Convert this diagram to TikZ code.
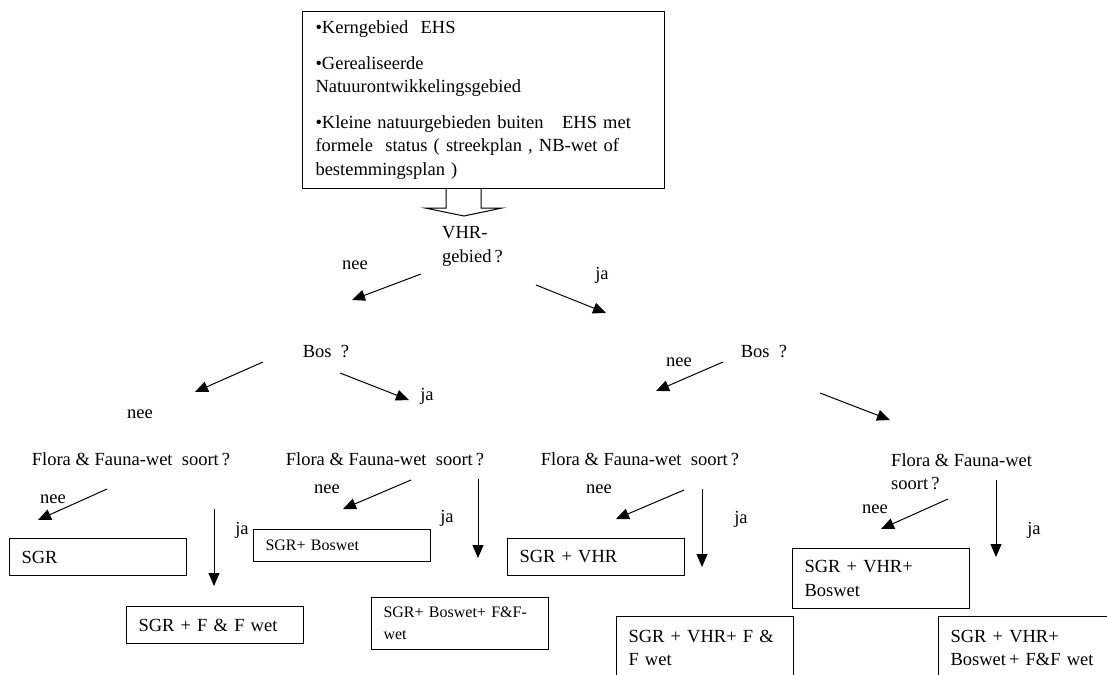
\documentclass[tikz,border=0pt]{standalone}
\usepackage{fontspec}
\setmainfont{Liberation Serif}
\usetikzlibrary{arrows.meta}
\tikzset{
  tekst/.style={inner sep=0pt, align=left, font=\fontsize{18.5}{23.5}\selectfont},
  uitkomst/.style={draw, line width=1pt, anchor=north west, text width=153pt,
    inner xsep=12pt, inner ysep=0pt, align=left, font=\fontsize{18.5}{23.5}\selectfont},
  klein/.style={font=\fontsize{16}{22}\selectfont},
  pijl/.style={line width=1pt, -{Triangle[length=13pt,width=11pt]}}
}
\begin{document}
\begin{tikzpicture}[x=1pt,y=-1pt]
\useasboundingbox (0,0) rectangle (1107,674);

\node[uitkomst, text width=336pt, inner xsep=13pt, minimum height=177pt] (ehs) at (302,11)
  {\textbullet Kerngebied~~EHS\\[12pt]
   \textbullet Gerealiseerde\\Natuurontwikkelingsgebied\\[12pt]
   \textbullet Kleine natuurgebieden buiten\quad EHS met\\
   formele~~status ( streekplan , NB-wet of\\bestemmingsplan~)};
\draw[line width=1pt] (446,188) -- (446,208) -- (425,208) -- (464,216)
  -- (502,208) -- (481,208) -- (481,188);

\node[tekst, anchor=west] (vhr) at (442,246.5) {VHR-\\gebied\,?};
\node[tekst] (bosL) at (326,352) {Bos~~?};
\node[tekst] (bosR) at (764,352) {Bos~~?};
\node[tekst] (ffA) at (131,459) {Flora \& Fauna-wet~~soort\,?};
\node[tekst] (ffB) at (385,459) {Flora \& Fauna-wet~~soort\,?};
\node[tekst] (ffC) at (640,459) {Flora \& Fauna-wet~~soort\,?};
\node[tekst, anchor=west] (ffD) at (891,471.5) {Flora \& Fauna-wet\\soort\,?};

\node[tekst] (vhr-nee) at (355,265) {nee};
\node[tekst] (vhr-ja) at (602,275) {ja};
\node[tekst] (bosL-nee) at (140,414) {nee};
\node[tekst] (bosL-ja) at (427,396) {ja};
\node[tekst] (bosR-nee) at (679,362) {nee};
\node[tekst] (ffA-nee) at (53,499) {nee};
\node[tekst] (ffA-ja) at (242,530) {ja};
\node[tekst] (ffB-nee) at (327,489) {nee};
\node[tekst] (ffB-ja) at (447,518) {ja};
\node[tekst] (ffC-nee) at (599,489) {nee};
\node[tekst] (ffC-ja) at (741,519) {ja};
\node[tekst] (ffD-nee) at (875,509) {nee};
\node[tekst] (ffD-ja) at (1034,530) {ja};

\node[uitkomst, minimum height=37pt] (sgr) at (9,538) {SGR};
\node[uitkomst, minimum height=37pt] (sgr-ff) at (126,606) {SGR + F \& F wet};
\node[uitkomst, klein, minimum height=32pt] (sgr-bos) at (253,529) {SGR+ Boswet};
\node[uitkomst, klein, minimum height=52pt] (sgr-bos-ff) at (371,597) {SGR+ Boswet+ F\&F-\\wet};
\node[uitkomst, minimum height=37pt] (sgr-vhr) at (507,538) {SGR + VHR};
\node[uitkomst, minimum height=63pt] (sgr-vhr-ff) at (616,616) {SGR + VHR+ F \&\\F wet};
\node[uitkomst, minimum height=60pt] (sgr-vhr-bos) at (792,548) {SGR + VHR+\\Boswet};
\node[uitkomst, minimum height=63pt] (sgr-alles) at (938,616) {SGR + VHR+\\Boswet\,+ F\&F wet};

\coordinate (vhr-n1) at (421,274);  \coordinate (vhr-n2) at (352,300);
\coordinate (vhr-j1) at (536,285);  \coordinate (vhr-j2) at (606,313);
\coordinate (bosL-n1) at (263,362); \coordinate (bosL-n2) at (195,392);
\coordinate (bosL-j1) at (340,373); \coordinate (bosL-j2) at (409,400);
\coordinate (bosR-n1) at (723,362); \coordinate (bosR-n2) at (656,391);
\coordinate (bosR-j1) at (820,393); \coordinate (bosR-j2) at (890,420);
\coordinate (ffA-n1) at (107,489);  \coordinate (ffA-n2) at (38,520);
\coordinate (ffA-j1) at (214,509);  \coordinate (ffA-j2) at (214,586);
\coordinate (ffB-n1) at (411,480);  \coordinate (ffB-n2) at (343,509);
\coordinate (ffB-j1) at (478,479);  \coordinate (ffB-j2) at (478,558);
\coordinate (ffC-n1) at (684,490);  \coordinate (ffC-n2) at (616,519);
\coordinate (ffC-j1) at (702,489);  \coordinate (ffC-j2) at (702,567);
\coordinate (ffD-n1) at (948,499);  \coordinate (ffD-n2) at (881,529);
\coordinate (ffD-j1) at (996,480);  \coordinate (ffD-j2) at (996,557);

\draw[pijl] (vhr-n1) -- (vhr-n2);
\draw[pijl] (vhr-j1) -- (vhr-j2);
\draw[pijl] (bosL-n1) -- (bosL-n2);
\draw[pijl] (bosL-j1) -- (bosL-j2);
\draw[pijl] (bosR-n1) -- (bosR-n2);
\draw[pijl] (bosR-j1) -- (bosR-j2);
\draw[pijl] (ffA-n1) -- (ffA-n2);
\draw[pijl] (ffA-j1) -- (ffA-j2);
\draw[pijl] (ffB-n1) -- (ffB-n2);
\draw[pijl] (ffB-j1) -- (ffB-j2);
\draw[pijl] (ffC-n1) -- (ffC-n2);
\draw[pijl] (ffC-j1) -- (ffC-j2);
\draw[pijl] (ffD-n1) -- (ffD-n2);
\draw[pijl] (ffD-j1) -- (ffD-j2);
\end{tikzpicture}
\end{document}
